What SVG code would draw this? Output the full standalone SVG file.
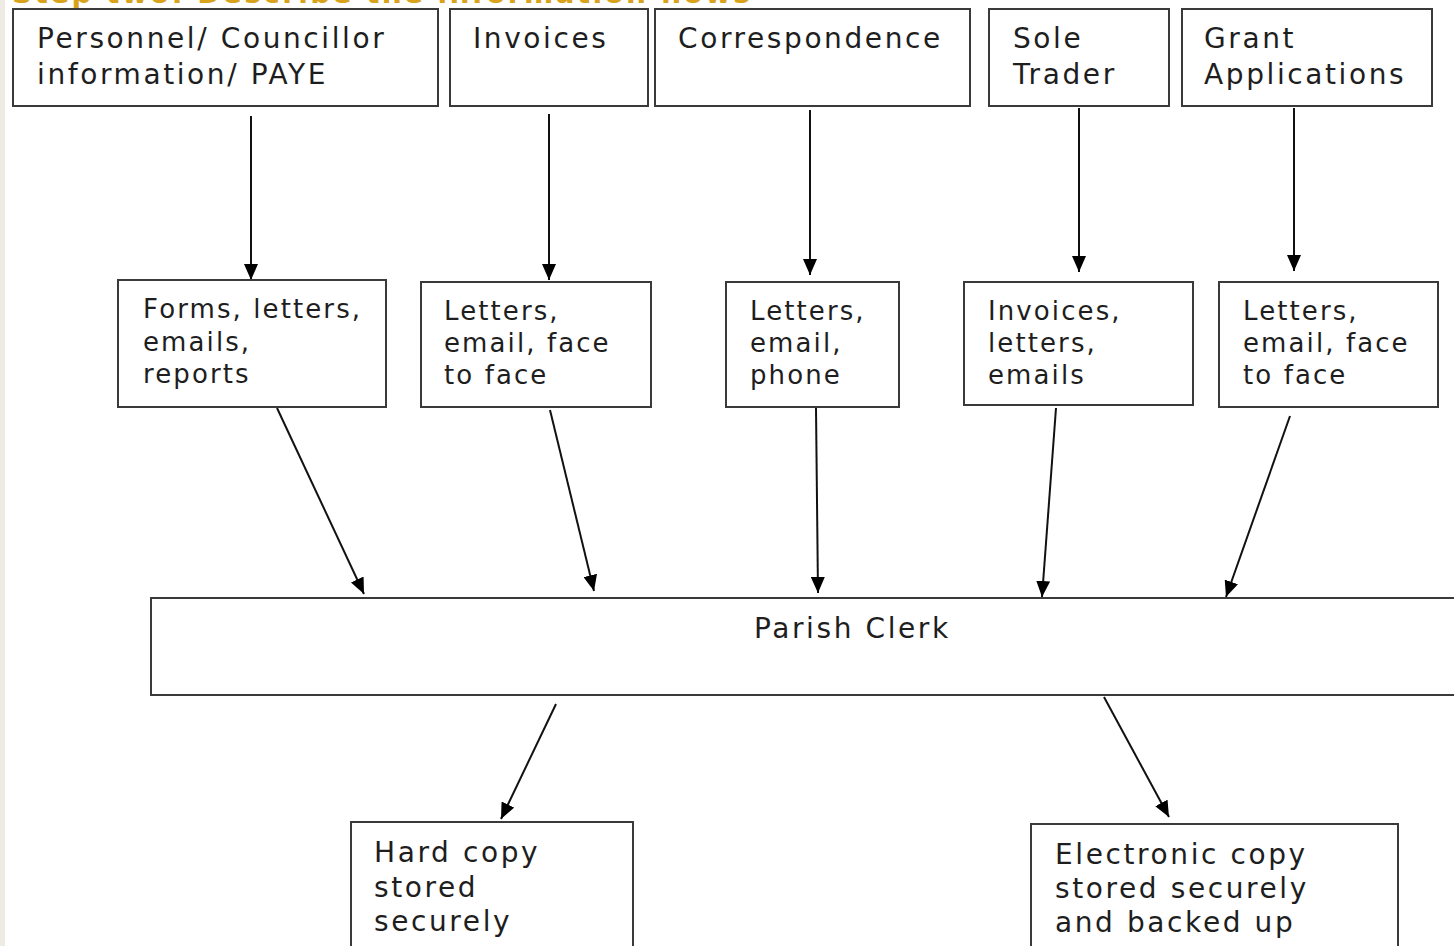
<svg xmlns="http://www.w3.org/2000/svg" width="1454" height="946" viewBox="0 0 1454 946">
<defs>
<style>
.box{fill:#fff;stroke:#3a3a3a;stroke-width:2}
.t{font-family:"DejaVu Sans","Verdana",sans-serif;font-size:28px;letter-spacing:2.6px;fill:#1e1e1e}
.m{font-family:"DejaVu Sans","Verdana",sans-serif;font-size:26px;letter-spacing:2.1px;fill:#1e1e1e}
.c{stroke:#111;stroke-width:2;fill:none;marker-end:url(#ah)}
</style>
<marker id="ah" markerUnits="userSpaceOnUse" markerWidth="17" markerHeight="14" refX="16" refY="7" orient="auto">
<path d="M0,0 L16,7 L0,14 Z" fill="#000"/>
</marker>
</defs>
<rect x="0" y="0" width="1454" height="946" fill="#fff"/>
<rect x="0" y="0" width="5" height="946" fill="#eeeae4"/>
<text x="12" y="3" font-family="DejaVu Sans, Verdana, sans-serif" font-size="28" font-weight="bold" fill="#d9a21b" textLength="738" lengthAdjust="spacing">Step two: Describe the information flows</text>

<g id="connectors">
<line class="c" x1="251" y1="116" x2="251" y2="280"/>
<line class="c" x1="549" y1="114" x2="549" y2="280"/>
<line class="c" x1="810" y1="110" x2="810" y2="275"/>
<line class="c" x1="1079" y1="108" x2="1079" y2="272"/>
<line class="c" x1="1294" y1="108" x2="1294" y2="271"/>
<line class="c" x1="277" y1="408" x2="364" y2="594"/>
<line class="c" x1="550" y1="410" x2="594" y2="591"/>
<line class="c" x1="816" y1="408" x2="818" y2="593"/>
<line class="c" x1="1056" y1="408" x2="1042" y2="597"/>
<line class="c" x1="1290" y1="416" x2="1226" y2="597"/>
<line class="c" x1="556" y1="704" x2="501" y2="819"/>
<line class="c" x1="1104" y1="697" x2="1169" y2="817"/>
</g>

<g id="n-personnel"><rect class="box" x="13" y="9" width="425" height="97"/>
<text class="t" x="37" y="48">Personnel/ Councillor</text><text class="t" x="37" y="84">information/ PAYE</text></g>
<g id="n-invoices"><rect class="box" x="450" y="9" width="198" height="97"/>
<text class="t" x="473" y="48">Invoices</text></g>
<g id="n-correspondence"><rect class="box" x="655" y="9" width="315" height="97"/>
<text class="t" x="678" y="48">Correspondence</text></g>
<g id="n-soletrader"><rect class="box" x="989" y="9" width="180" height="97"/>
<text class="t" x="1013" y="48">Sole</text><text class="t" x="1013" y="84">Trader</text></g>
<g id="n-grant"><rect class="box" x="1182" y="9" width="250" height="97"/>
<text class="t" x="1204" y="48">Grant</text><text class="t" x="1204" y="84">Applications</text></g>

<g id="n-forms"><rect class="box" x="118" y="280" width="268" height="127"/>
<text class="m" x="143" y="318">Forms, letters,</text><text class="m" x="143" y="351">emails,</text><text class="m" x="143" y="383">reports</text></g>
<g id="n-letters1"><rect class="box" x="421" y="282" width="230" height="125"/>
<text class="m" x="444" y="320">Letters,</text><text class="m" x="444" y="352">email, face</text><text class="m" x="444" y="384">to face</text></g>
<g id="n-letters2"><rect class="box" x="726" y="282" width="173" height="125"/>
<text class="m" x="750" y="320">Letters,</text><text class="m" x="750" y="352">email,</text><text class="m" x="750" y="384">phone</text></g>
<g id="n-invoices2"><rect class="box" x="964" y="282" width="229" height="123"/>
<text class="m" x="988" y="320">Invoices,</text><text class="m" x="988" y="352">letters,</text><text class="m" x="988" y="384">emails</text></g>
<g id="n-letters3"><rect class="box" x="1219" y="282" width="219" height="125"/>
<text class="m" x="1243" y="320">Letters,</text><text class="m" x="1243" y="352">email, face</text><text class="m" x="1243" y="384">to face</text></g>

<g id="n-parish"><rect class="box" x="151" y="598" width="1320" height="97"/>
<text class="t" x="754" y="638">Parish Clerk</text></g>

<g id="n-hardcopy"><rect class="box" x="351" y="822" width="282" height="140"/>
<text class="t" x="374" y="862">Hard copy</text><text class="t" x="374" y="897">stored</text><text class="t" x="374" y="931">securely</text></g>
<g id="n-electronic"><rect class="box" x="1031" y="824" width="367" height="140"/>
<text class="t" x="1055" y="864">Electronic copy</text><text class="t" x="1055" y="898">stored securely</text><text class="t" x="1055" y="932">and backed up</text></g>
</svg>
